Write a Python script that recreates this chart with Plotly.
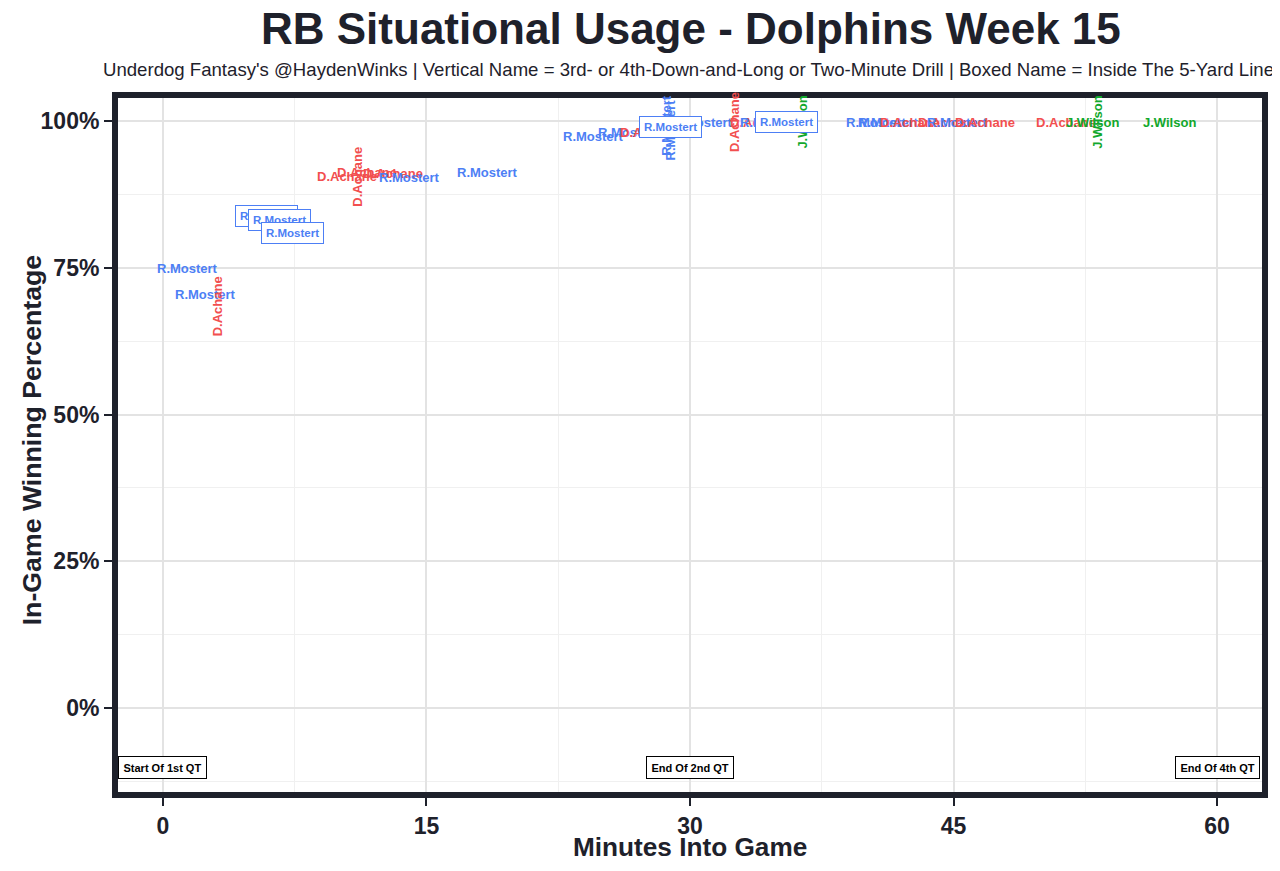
import plotly.graph_objects as go

# --- Data ---
minutes = [1.4, 2.4, 3.1, 5.9, 6.65, 7.35, 10.45, 11.6, 11.1, 13.1, 14.05, 18.5,
           24.5, 26.5, 27.7, 28.7, 28.9, 28.9, 30.7, 32.5, 34.0, 34.6, 35.5, 36.4,
           40.6, 41.3, 42.5, 44.7, 45.2, 46.8, 51.4, 52.9, 53.2, 57.3]
win_pct = [0.748, 0.705, 0.685, 0.839, 0.831, 0.810, 0.906, 0.913, 0.905, 0.910, 0.903, 0.913,
           0.973, 0.981, 0.981, 0.992, 0.985, 0.990, 0.998, 0.998, 0.998, 0.998, 0.999, 0.998,
           0.998, 0.998, 0.998, 0.998, 0.998, 0.998, 0.998, 0.998, 0.998, 0.998]
players = ['R.Mostert', 'R.Mostert', 'D.Achane', 'R.Mostert', 'R.Mostert', 'R.Mostert',
           'D.Achane', 'D.Achane', 'D.Achane', 'D.Achane', 'R.Mostert', 'R.Mostert',
           'R.Mostert', 'R.Mostert', 'D.Achane', 'R.Mostert', 'R.Mostert', 'R.Mostert',
           'R.Mostert', 'D.Achane', 'D.Achane', 'R.Mostert', 'R.Mostert', 'J.Wilson',
           'R.Mostert', 'R.Mostert', 'D.Achane', 'D.Achane', 'R.Mostert', 'D.Achane',
           'D.Achane', 'J.Wilson', 'J.Wilson', 'J.Wilson']
# 'long' = 3rd/4th-and-long or two-minute drill, 'goal' = inside the 5
situation = ['normal', 'normal', 'long', 'goal', 'goal', 'goal',
             'normal', 'normal', 'long', 'normal', 'normal', 'normal',
             'normal', 'normal', 'normal', 'long', 'long', 'goal',
             'normal', 'long', 'normal', 'normal', 'goal', 'long',
             'normal', 'normal', 'normal', 'normal', 'normal', 'normal',
             'normal', 'normal', 'long', 'normal']

quarter_minutes = [0, 30, 60]
quarter_labels = ['Start Of 1st QT', 'End Of 2nd QT', 'End Of 4th QT']
quarter_y = -0.102

x_ticks = [0, 15, 30, 45, 60]
y_ticks = [0, 0.25, 0.5, 0.75, 1.0]

player_colors = {'R.Mostert': '#4d7ff5', 'D.Achane': '#f24f4f', 'J.Wilson': '#12a82c'}
dark = '#1e212b'
font_family = 'Liberation Sans, Arial, sans-serif'

fig = go.Figure()
# invisible trace so the axes exist
fig.add_trace(go.Scatter(x=minutes, y=win_pct, mode='markers',
                         marker=dict(opacity=0), hoverinfo='skip', showlegend=False))

annotations = []
# plain and vertical names first, boxed names drawn on top
for m, w, p, s in zip(minutes, win_pct, players, situation):
    if s == 'goal':
        continue
    annotations.append(dict(
        x=m, y=w, xref='x', yref='y', text=f'<b>{p}</b>', showarrow=False,
        textangle=-90 if s == 'long' else 0,
        font=dict(family=font_family, size=13, color=player_colors[p]),
    ))
for m, w, p, s in zip(minutes, win_pct, players, situation):
    if s != 'goal':
        continue
    annotations.append(dict(
        x=m, y=w, xref='x', yref='y', text=f'<b>{p}</b>', showarrow=False,
        font=dict(family=font_family, size=11.5, color=player_colors[p]),
        bgcolor='white', bordercolor=player_colors[p], borderwidth=1, borderpad=4,
    ))

for qm, ql in zip(quarter_minutes, quarter_labels):
    annotations.append(dict(
        x=qm, y=quarter_y, xref='x', yref='y', text=f'<b>{ql}</b>', showarrow=False,
        font=dict(family=font_family, size=11, color='black'),
        bgcolor='white', bordercolor='black', borderwidth=1, borderpad=4.5,
    ))

# titles
title_common = dict(xref='paper', yref='paper', showarrow=False,
                    xanchor='center', yanchor='middle')
annotations += [
    dict(x=0.501, y=1.095, text='<b>RB Situational Usage - Dolphins Week 15</b>',
         font=dict(family=font_family, size=44, color=dark), **title_common),
    dict(x=0.499, y=1.036,
         text="Underdog Fantasy's @HaydenWinks | Vertical Name = 3rd- or 4th-Down-and-Long "
              "or Two-Minute Drill | Boxed Name = Inside The 5-Yard Line",
         font=dict(family=font_family, size=18.6, color=dark), **title_common),
    dict(x=0.5, y=-0.074, text='<b>Minutes Into Game</b>',
         font=dict(family=font_family, size=26.2, color=dark), **title_common),
    dict(x=-0.072, y=0.507, textangle=-90, text='<b>In-Game Winning Percentage</b>',
         font=dict(family=font_family, size=26.7, color=dark), **title_common),
]

fig.update_layout(
    width=1272, height=863,
    margin=dict(l=107, r=15, t=87, b=76),
    plot_bgcolor='white', paper_bgcolor='white',
    annotations=annotations,
    shapes=[dict(type='rect', xref='paper', yref='paper', x0=0, x1=1, y0=0, y1=1,
                 line=dict(color=dark, width=6), layer='above')],
    font=dict(family=font_family),
)
axis_common = dict(
    showgrid=True, gridcolor='#e3e3e3', gridwidth=1.5, zeroline=False, showline=False,
    ticks='outside', ticklen=10, tickwidth=2, tickcolor=dark,
    tickfont=dict(family=font_family, size=23, color=dark),
)
fig.update_xaxes(
    range=[-2.73, 62.73], tickvals=x_ticks,
    ticktext=[f'<b>{t}</b>' for t in x_ticks],
    minor=dict(dtick=7.5, tick0=0, showgrid=True, gridcolor='#f0f0f0', gridwidth=1),
    **axis_common,
)
fig.update_yaxes(
    range=[-0.1482, 1.0443], tickvals=y_ticks,
    ticktext=[f'<b>{t:.0%}</b>' for t in y_ticks],
    minor=dict(dtick=0.125, tick0=0, showgrid=True, gridcolor='#f0f0f0', gridwidth=1),
    **axis_common,
)

fig.write_html('out.html')
